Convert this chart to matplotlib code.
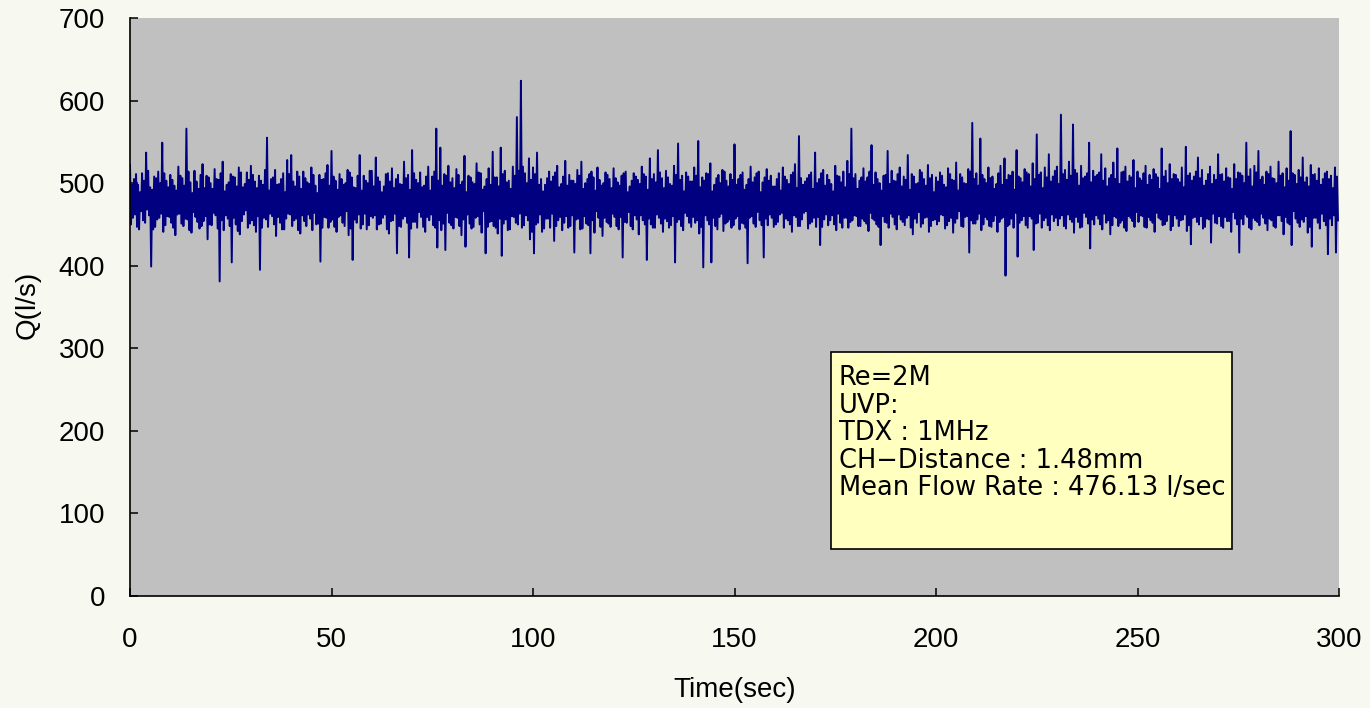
import numpy as np
import matplotlib
matplotlib.use("Agg")
import matplotlib.pyplot as plt
from matplotlib.patches import Rectangle

# flow rate record (l/s): per second an outer high, outer low,
# inner high and inner low reading
q_hi = [
    522, 505, 498, 512, 537, 495, 508, 514, 549, 503,
    510, 497, 520, 506, 566, 501, 515, 493, 523, 509,
    500, 517, 504, 526, 498, 511, 507, 519, 495, 513,
    521, 502, 509, 498, 555, 505, 516, 499, 512, 528,
    534, 496, 508, 514, 501, 519, 497, 510, 505, 522,
    539, 503, 511, 498, 516, 507, 494, 534, 509, 500,
    515, 531, 502, 496, 512, 518, 505, 499, 526, 510,
    540, 504, 513, 497, 520, 508, 566, 543, 511, 521,
    506, 517, 498, 533, 509, 501, 524, 512, 496, 518,
    538, 507, 543, 515, 503, 520, 580, 624, 512, 530,
    519, 537, 505, 498, 514, 508, 521, 499, 527, 510,
    503, 516, 526, 500, 511, 507, 519, 497, 513, 505,
    518, 501, 509, 514, 496, 512, 504, 520, 508, 530,
    511, 540, 506, 515, 499, 521, 548, 509, 513, 502,
    519, 551, 507, 512, 524, 498, 510, 516, 503, 511,
    547, 505, 513, 498, 520, 507, 514, 501, 517, 509,
    496, 512, 519, 504, 510, 523, 557, 498, 506, 513,
    537, 505, 516, 510, 499, 521, 508, 514, 527, 566,
    511, 503, 518, 507, 546, 513, 500, 509, 539, 515,
    502, 519, 508, 534, 511, 499, 516, 505, 522, 510,
    507, 513, 498, 518, 504, 525, 511, 500, 517, 573,
    512, 554, 505, 519, 508, 499, 521, 530, 510, 514,
    540, 506, 517, 511, 524, 559, 513, 519, 535, 508,
    520, 583, 516, 526, 571, 512, 521, 508, 549, 515,
    510, 535, 518, 506, 525, 542, 513, 520, 509, 528,
    514, 503, 521, 510, 517, 507, 542, 515, 523, 511,
    505, 519, 544, 512, 508, 531, 516, 503, 520, 510,
    535, 511, 518, 506, 523, 513, 509, 549, 517, 521,
    539, 508, 514, 520, 505, 526, 512, 518, 563, 510,
    516, 531, 507, 522, 511, 518, 505, 514, 509, 519,
]
q_lo = [
    450, 462, 444, 455, 468, 399, 447, 458, 441, 460,
    452, 437, 463, 448, 456, 440, 459, 445, 454, 432,
    449, 461, 381, 443, 457, 404, 450, 438, 462, 446,
    455, 441, 395, 458, 447, 460, 436, 452, 444, 463,
    448, 457, 439, 454, 462, 443, 450, 405, 459, 446,
    456, 441, 461, 448, 437, 407, 452, 445, 463, 449,
    458, 444, 451, 462, 439, 455, 415, 447, 460, 410,
    453, 446, 459, 441, 455, 449, 422, 443, 419, 452,
    445, 458, 437, 423, 451, 447, 460, 440, 415, 453,
    448, 439, 412, 456, 444, 459, 450, 446, 461, 432,
    415, 452, 441, 457, 446, 430, 455, 443, 460, 448,
    416, 457, 445, 451, 415, 440, 458, 436, 453, 447,
    459, 444, 410, 452, 448, 461, 438, 455, 407, 450,
    446, 458, 441, 454, 449, 404, 456, 443, 460, 447,
    452, 439, 398, 455, 404, 448, 459, 442, 453, 446,
    457, 444, 451, 403, 460, 447, 455, 410, 449, 458,
    450, 462, 446, 455, 441, 459, 448, 464, 445, 453,
    447, 425, 456, 449, 461, 443, 452, 458, 446, 455,
    460, 448, 454, 442, 457, 450, 425, 453, 446, 459,
    444, 456, 449, 461, 438, 452, 447, 458, 441, 455,
    450, 462, 445, 454, 440, 457, 448, 459, 416, 451,
    456, 443, 459, 448, 454, 441, 457, 388, 450, 446,
    411, 455, 449, 460, 419, 452, 446, 458, 443, 454,
    449, 461, 445, 456, 440, 453, 447, 459, 421, 450,
    457, 444, 452, 438, 460, 448, 455, 442, 458, 447,
    453, 460, 446, 455, 441, 458, 449, 454, 443, 461,
    448, 456, 442, 426, 459, 450, 445, 457, 428, 452,
    460, 446, 454, 441, 457, 416, 450, 459, 444, 455,
    449, 458, 443, 455, 446, 461, 438, 452, 425, 457,
    447, 453, 440, 423, 458, 445, 454, 414, 449, 416,
]
q_in_hi = [
    498, 511, 489, 503, 515, 492, 506, 500, 512, 495,
    504, 491, 509, 497, 514, 488, 502, 510, 494, 507,
    493, 505, 512, 490, 501, 508, 496, 513, 499, 504,
    510, 494, 503, 516, 491, 507, 498, 505, 489, 511,
    502, 514, 493, 506, 499, 510, 488, 504, 512, 497,
    508, 492, 505, 500, 513, 495, 509, 491, 503, 515,
    496, 507, 489, 511, 502, 494, 510, 498, 506, 492,
    512, 500, 495, 508, 491, 514, 503, 497, 509, 501,
    494, 510, 502, 489, 507, 499, 513, 492, 505, 498,
    507, 496, 511, 501, 493, 509, 515, 520, 500, 504,
    511, 498, 490, 506, 502, 513, 495, 508, 497, 503,
    499, 509, 493, 505, 514, 491, 504, 500, 510, 494,
    506, 497, 512, 489, 503, 508, 499, 511, 492, 505,
    501, 513, 494, 507, 497, 510, 504, 490, 508, 502,
    509, 495, 503, 511, 490, 506, 500, 514, 496, 504,
    498, 510, 492, 505, 501, 512, 489, 507, 503, 496,
    505, 491, 508, 499, 513, 494, 506, 502, 510, 493,
    500, 512, 497, 504, 490, 509, 501, 495, 511, 506,
    493, 507, 502, 514, 498, 505, 491, 510, 499, 503,
    511, 496, 504, 492, 508, 500, 513, 497, 506, 489,
    502, 509, 495, 511, 503, 491, 507, 499, 514, 505,
    497, 510, 500, 506, 493, 512, 498, 504, 509, 492,
    508, 501, 513, 496, 505, 510, 494, 507, 502, 515,
    499, 511, 504, 509, 516, 497, 506, 512, 501, 508,
    513, 503, 496, 510, 505, 499, 514, 502, 507, 494,
    506, 512, 498, 504, 511, 493, 508, 500, 505, 510,
    501, 495, 509, 503, 514, 506, 497, 511, 499, 504,
    510, 502, 507, 493, 505, 512, 500, 508, 496, 513,
    504, 498, 511, 506, 500, 509, 495, 503, 512, 499,
    507, 501, 496, 510, 503, 498, 512, 505, 494, 508,
]
q_in_lo = [
    458, 447, 466, 452, 461, 444, 456, 463, 449, 459,
    446, 462, 451, 457, 443, 465, 453, 448, 460, 450,
    464, 445, 455, 461, 448, 458, 442, 454, 467, 451,
    449, 460, 446, 456, 463, 450, 459, 444, 457, 462,
    455, 443, 461, 448, 457, 464, 451, 446, 458, 453,
    447, 459, 452, 466, 445, 456, 462, 450, 444, 460,
    461, 450, 458, 444, 454, 463, 448, 457, 452, 445,
    453, 465, 447, 459, 462, 446, 455, 451, 464, 449,
    459, 448, 456, 462, 445, 458, 450, 466, 447, 454,
    446, 457, 451, 443, 460, 452, 463, 449, 455, 441,
    450, 462, 445, 457, 463, 448, 459, 452, 446, 461,
    456, 444, 460, 449, 455, 466, 447, 458, 451, 463,
    448, 459, 453, 465, 444, 456, 461, 450, 457, 446,
    462, 451, 457, 446, 460, 453, 448, 464, 452, 459,
    455, 447, 461, 450, 458, 444, 463, 451, 456, 449,
    460, 452, 446, 458, 451, 465, 449, 457, 462, 447,
    453, 464, 457, 450, 461, 448, 456, 466, 451, 458,
    459, 447, 462, 455, 450, 463, 446, 458, 453, 461,
    448, 457, 451, 464, 455, 447, 460, 452, 463, 450,
    462, 453, 458, 446, 457, 465, 451, 459, 448, 456,
    454, 461, 449, 458, 452, 466, 447, 460, 455, 451,
    463, 450, 456, 447, 461, 453, 459, 448, 457, 464,
    452, 460, 446, 457, 451, 463, 455, 449, 462, 458,
    457, 448, 462, 453, 459, 446, 464, 451, 456, 461,
    450, 463, 455, 449, 458, 452, 446, 460, 454, 465,
    461, 447, 459, 452, 464, 456, 450, 462, 448, 457,
    455, 462, 449, 458, 453, 460, 447, 456, 463, 451,
    448, 459, 454, 465, 450, 457, 462, 446, 458, 453,
    463, 451, 457, 448, 461, 454, 459, 450, 466, 452,
    456, 460, 447, 458, 452, 463, 449, 457, 461, 455,
]

info_lines = [
    "Re=2M",
    "UVP:",
    "TDX : 1MHz",
    "CH\u2212Distance : 1.48mm",
    "Mean Flow Rate : 476.13 l/sec",
]

x_ticks = [0, 50, 100, 150, 200, 250, 300]
y_ticks = [0, 100, 200, 300, 400, 500, 600, 700]

# four readings per second, 0.25 s apart
t = np.arange(0, 300, 0.25)
q = np.empty(len(t))
q[0::4] = q_hi
q[1::4] = q_lo
q[2::4] = q_in_hi
q[3::4] = q_in_lo

W, H = 1370, 708
fig = plt.figure(figsize=(W / 100, H / 100), dpi=100, facecolor="#F7F8F0")
ax = fig.add_axes([130 / W, 1 - 596 / H, (1339 - 130) / W, (596 - 18) / H])
ax.set_facecolor("#C0C0C0")

ax.plot(t, q, color="#000080", lw=1.4)

ax.set_xlim(0, 300)
ax.set_ylim(0, 700)
ax.set_xticks(x_ticks)
ax.set_yticks(y_ticks)

font = "Liberation Sans"
for lab in ax.get_xticklabels() + ax.get_yticklabels():
    lab.set_fontfamily(font)
    lab.set_fontsize(20)
ax.tick_params(axis="both", direction="in", length=6, width=1.1, color="black")
ax.tick_params(axis="x", pad=22)
ax.tick_params(axis="y", pad=18)

for side in ("top", "right"):
    ax.spines[side].set_visible(False)
for side in ("left", "bottom"):
    ax.spines[side].set_linewidth(1.2)
    ax.spines[side].set_color("black")

fig.text(735 / W, 1 - 690 / H, "Time(sec)", ha="center", va="center",
         fontsize=20, family=font)
fig.text(28 / W, 1 - 305 / H, "Q(l/s)", ha="center", va="center",
         rotation=90, fontsize=20, family=font)

# info box
box = Rectangle((831 / W, 1 - 549 / H), (1232 - 831) / W, (549 - 352) / H,
                transform=fig.transFigure, facecolor="#FFFFC0",
                edgecolor="black", lw=1.2, zorder=5)
fig.patches.append(box)
for i, line in enumerate(info_lines):
    fig.text(839 / W, 1 - (385 + i * 27.6) / H, line, ha="left",
             va="baseline", fontsize=18.5, family="DejaVu Sans", zorder=6)

fig.savefig("out.png", dpi=100, facecolor=fig.get_facecolor())
